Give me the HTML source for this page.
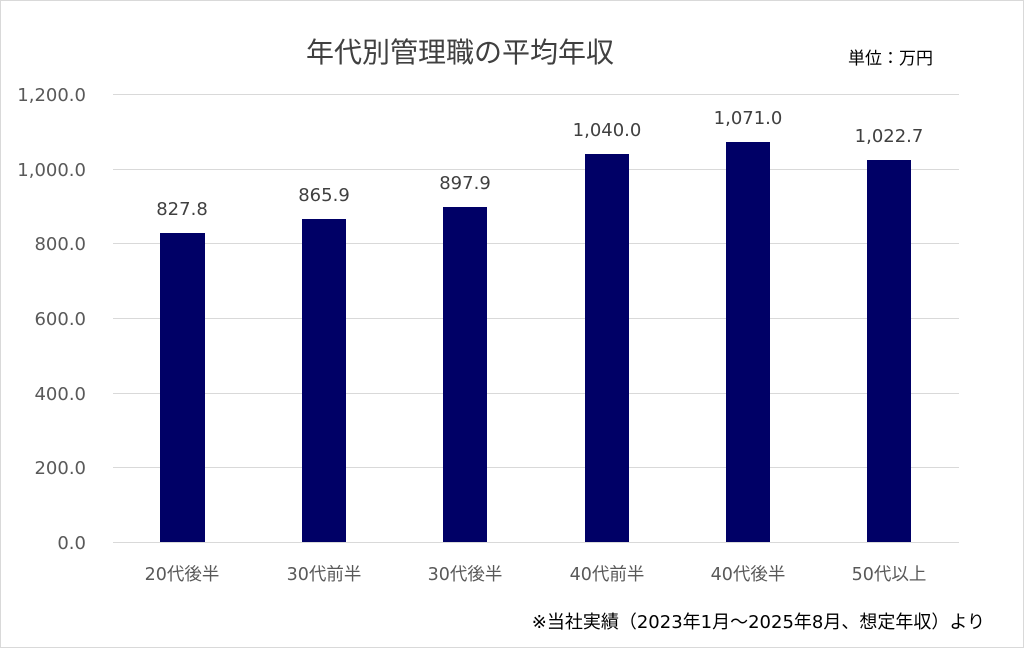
<!DOCTYPE html>
<html><head><meta charset="utf-8"><style>
body{margin:0;background:#fff;}
svg text{font-family:"DejaVu Sans","Noto Sans CJK JP",sans-serif;}
</style></head><body>
<svg width="1024" height="648" xmlns="http://www.w3.org/2000/svg">
<rect x="0.5" y="0.5" width="1023" height="647" fill="#fff" stroke="#d9d9d9"/>
<text x="460" y="62" font-size="28" fill="#404040" text-anchor="middle">年代別管理職の平均年収</text>
<text x="848" y="64" font-size="17" fill="#000">単位：万円</text>
<g stroke="#d9d9d9" stroke-width="1">
<line x1="113" x2="959" y1="94.5" y2="94.5"/>
<line x1="113" x2="959" y1="169.5" y2="169.5"/>
<line x1="113" x2="959" y1="243.5" y2="243.5"/>
<line x1="113" x2="959" y1="318.5" y2="318.5"/>
<line x1="113" x2="959" y1="393.5" y2="393.5"/>
<line x1="113" x2="959" y1="467.5" y2="467.5"/>
<line x1="113" x2="959" y1="542.5" y2="542.5"/>
</g>
<g font-size="18" fill="#595959" text-anchor="end">
<text x="86" y="101">1,200.0</text>
<text x="86" y="176">1,000.0</text>
<text x="86" y="250">800.0</text>
<text x="86" y="325">600.0</text>
<text x="86" y="400">400.0</text>
<text x="86" y="474">200.0</text>
<text x="86" y="549">0.0</text>
</g>
<g fill="#000066">
<rect x="160" y="233" width="45" height="309"/>
<rect x="302" y="219" width="44" height="323"/>
<rect x="443" y="207" width="44" height="335"/>
<rect x="585" y="154" width="44" height="388"/>
<rect x="726" y="142" width="44" height="400"/>
<rect x="867" y="160" width="44" height="382"/>
</g>
<g font-size="18" fill="#404040" text-anchor="middle">
<text x="182" y="215">827.8</text>
<text x="324" y="201">865.9</text>
<text x="465" y="189">897.9</text>
<text x="607" y="136">1,040.0</text>
<text x="748" y="124">1,071.0</text>
<text x="889" y="142">1,022.7</text>
</g>
<g font-size="17.5" fill="#595959" text-anchor="middle">
<text x="182" y="580">20代後半</text>
<text x="324" y="580">30代前半</text>
<text x="465" y="580">30代後半</text>
<text x="607" y="580">40代前半</text>
<text x="748" y="580">40代後半</text>
<text x="889" y="580">50代以上</text>
</g>
<text x="985" y="628" font-size="18" fill="#000" text-anchor="end">※当社実績（2023年1月～2025年8月、想定年収）より</text>
</svg>
</body></html>
